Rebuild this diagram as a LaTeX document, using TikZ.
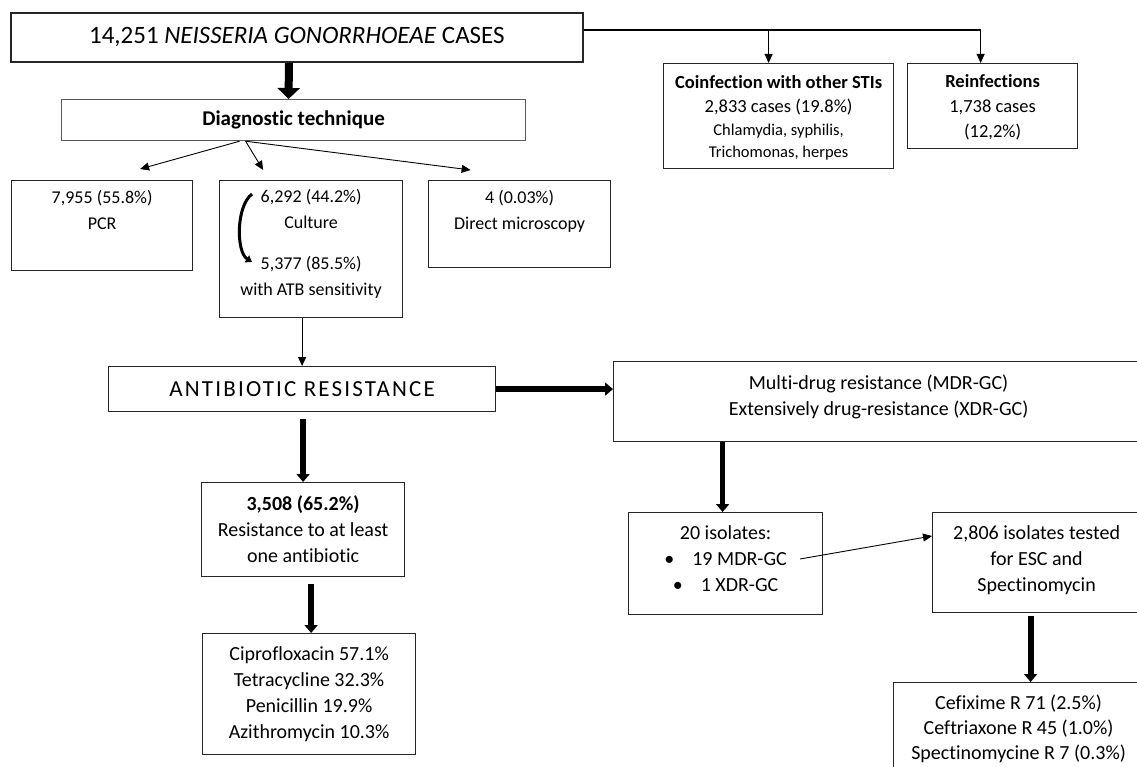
\documentclass[tikz,border=0pt]{standalone}
\usepackage{fontspec}
\setmainfont{Carlito}[Ligatures=NoCommon]
\usepackage{tikz}
\usetikzlibrary{arrows.meta, calc}

\begin{document}
\begin{tikzpicture}[x=1pt, y=-1pt,
    box/.style={draw=black!85, line width=1.2pt, align=center, anchor=north west, inner sep=0pt},
    fat/.style={line width=6pt, -{Triangle[width=13pt,length=8pt]}},
    bigfat/.style={line width=8pt, -{Triangle[width=22pt,length=11pt]}},
    thinarr/.style={line width=0.9pt, -{Triangle[width=8pt,length=9pt]}}]
    \useasboundingbox (0,0) rectangle (1137,767);
    \clip (0,0) rectangle (1137,767);
    % Cases and side boxes
    \node[box, line width=1.8pt, minimum width=572pt, minimum height=49pt, font=\fontsize{25}{30}\selectfont] (cases) at (10,12) {14,251 \textit{NEISSERIA GONORRHOEAE} CASES};
    \node[box, minimum width=230pt, minimum height=105pt, text depth=-2pt, font=\fontsize{18.5}{25}\selectfont] (coinf) at (663,63) {\textbf{Coinfection with other STIs}\\[-1pt]2,833 cases (19.8\%)\\[-2pt]{\fontsize{16.5}{20}\selectfont Chlamydia, syphilis,}\\[-3pt]{\fontsize{16.5}{20}\selectfont Trichomonas, herpes}};
    \node[box, minimum width=170pt, minimum height=85pt, text depth=-2.5pt, font=\fontsize{18.5}{25}\selectfont] (reinf) at (907,63) {\textbf{Reinfections}\\1,738 cases\\(12,2\%)};
    % Diagnostic technique
    \node[box, draw=black!65, minimum width=464pt, minimum height=41pt, font=\fontsize{21}{25}\selectfont\bfseries] (diag) at (61,99) {Diagnostic technique};
    \node[box, minimum width=181pt, minimum height=90pt, text depth=31pt, font=\fontsize{18}{26}\selectfont] (pcr) at (11,180) {7,955 (55.8\%)\\PCR};
    \node[box, minimum width=183pt, minimum height=137pt, text depth=14pt, font=\fontsize{18}{26}\selectfont] (culture) at (219,180) {6,292 (44.2\%)\\Culture\\[15pt]5,377 (85.5\%)\\with ATB sensitivity};
    \node[box, minimum width=182pt, minimum height=87pt, text depth=28pt, font=\fontsize{18}{26}\selectfont] (direct) at (428,180) {4 (0.03\%)\\Direct microscopy};
    % Resistance
    \node[box, minimum width=387pt, minimum height=45pt, font=\fontsize{23}{27}\selectfont\addfontfeature{LetterSpace=9.5}] (anti) at (108,366) {ANTIBIOTIC RESISTANCE};
    \node[box, minimum width=530pt, minimum height=80pt, text depth=13pt, font=\fontsize{20}{26}\selectfont] (mdr) at (613,361) {Multi-drug resistance (MDR-GC)\\Extensively drug-resistance (XDR-GC)};
    \node[box, minimum width=203pt, minimum height=94pt, font=\fontsize{20}{26}\selectfont] (res) at (201,482) {\textbf{3,508 (65.2\%)}\\Resistance to at least\\one antibiotic};
    \node[box, minimum width=213pt, minimum height=121pt, font=\fontsize{20}{26}\selectfont] (drugs) at (202,633) {Ciprofloxacin 57.1\%\\Tetracycline 32.3\%\\Penicillin 19.9\%\\Azithromycin 10.3\%};
    \node[box, minimum width=194pt, minimum height=102pt, text depth=10pt, font=\fontsize{20}{26}\selectfont] (iso) at (628,512) {20 isolates:\\\textbullet\hspace{18pt}19 MDR-GC\\\textbullet\hspace{18pt}1 XDR-GC};
    \node[box, minimum width=208pt, minimum height=100pt, text depth=9pt, font=\fontsize{20}{26}\selectfont] (tested) at (932,512) {2,806 isolates tested\\for ESC and\\Spectinomycin};
    \node[box, minimum width=250pt, minimum height=92pt, font=\fontsize{20}{25}\selectfont] (esc) at (893,682) {Cefixime R 71 (2.5\%)\\Ceftriaxone R 45 (1.0\%)\\Spectinomycine R 7 (0.3\%)};
    % Top connectors
    \coordinate (split) at ($(reinf.north)+(-12,-33)$);
    \draw[line width=1.2pt] ($(cases.north east)+(0,18)$) -- (split);
    \draw[thinarr] (split) -- ($(reinf.north)+(-12,0)$);
    \draw[thinarr] ($(coinf.north)+(-10,-33)$) -- ($(coinf.north)+(-10,0)$);
    \draw[bigfat] ($(cases.south)+(-8,0)$) -- ($(diag.north)+(-5,0)$);
    % Diagnostic arrows
    \draw[thinarr] ($(diag.south)+(-54,0)$) -- ($(pcr.north)+(38,-11)$);
    \draw[thinarr] ($(diag.south)+(-48,0)$) -- ($(culture.north)+(-48,-10)$);
    \draw[thinarr] ($(diag.south)+(-48,0)$) -- ($(direct.north)+(-49,-10)$);
    \draw[line width=3pt, -{Triangle[width=8pt,length=6pt]}] ($(culture.north west)+(33,14)$) .. controls ($(culture.north west)+(17,26)$) and ($(culture.north west)+(17,72)$) .. ($(culture.north west)+(33,82)$);
    \draw[thinarr] (anti.north |- culture.south) -- (anti.north);
    % Resistance arrows
    \draw[fat] (anti.east) -- (mdr.west |- anti.east);
    \draw[fat] ($(anti.south)+(1,7)$) -- (res.north);
    \draw[fat] ($(res.south)+(8,7)$) -- ($(drugs.north)+(2,0)$);
    \draw[fat, line width=4.5pt] ($(iso.north |- mdr.south)+(-3,0)$) -- ($(iso.north)+(-3,0)$);
    \draw[thinarr] ($(iso.north west)+(172,47)$) -- ($(tested.north west)+(0,24)$);
    \draw[fat] ($(tested.south)+(-6,3)$) -- ($(esc.north)+(12,0)$);
\end{tikzpicture}
\end{document}
